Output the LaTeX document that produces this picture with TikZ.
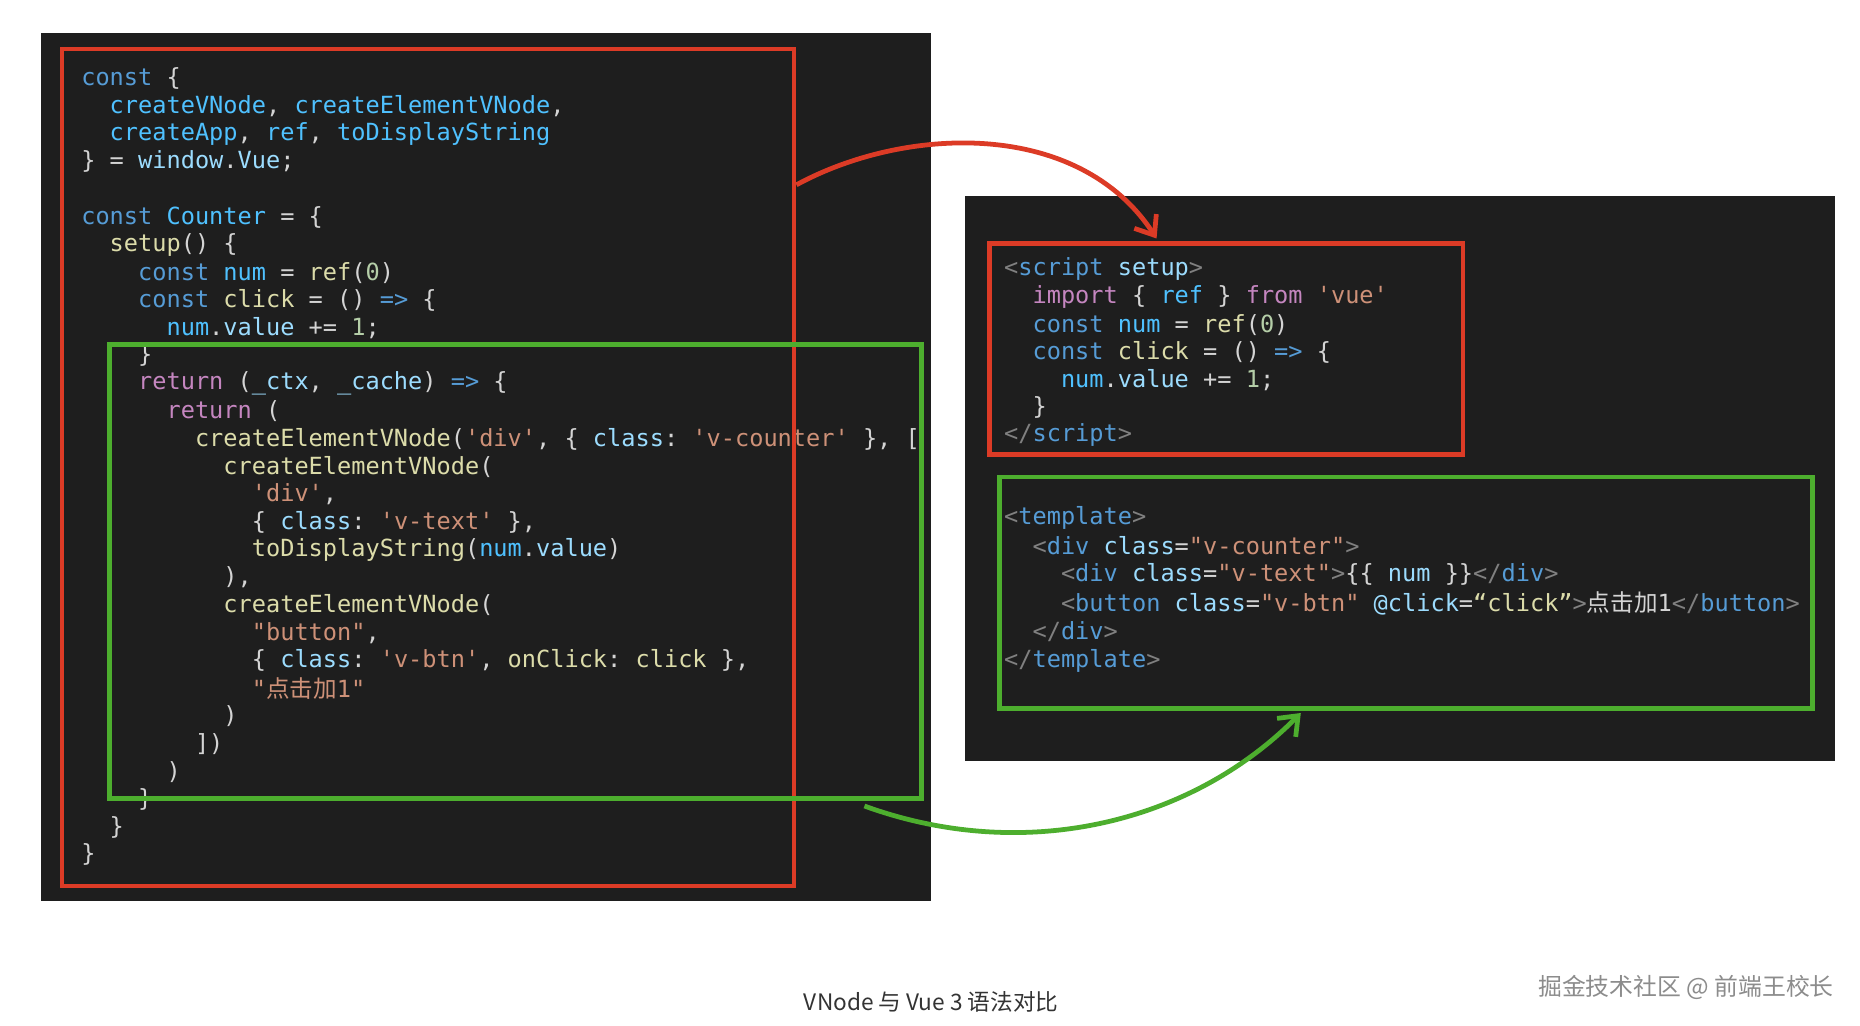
\documentclass[tikz,border=0pt]{standalone}
\usepackage{fontspec}
\setmonofont{DejaVu Sans Mono}
\newfontfamily\cjk{Noto Sans CJK SC}
\usetikzlibrary{arrows.meta}
\definecolor{bgdark}{HTML}{1E1E1E}
\definecolor{kw}{HTML}{569CD6}
\definecolor{cst}{HTML}{4FC1FF}
\definecolor{var}{HTML}{9CDCFE}
\definecolor{fn}{HTML}{DCDCAA}
\definecolor{str}{HTML}{CE9178}
\definecolor{ctl}{HTML}{C586C0}
\definecolor{numc}{HTML}{B5CEA8}
\definecolor{plain}{HTML}{D4D4D4}
\definecolor{tagc}{HTML}{808080}
\definecolor{redbox}{HTML}{DC3B26}
\definecolor{greenbox}{HTML}{4DAE2E}
\newcommand{\K}[1]{\textcolor{kw}{#1}}
\newcommand{\C}[1]{\textcolor{cst}{#1}}
\newcommand{\V}[1]{\textcolor{var}{#1}}
\newcommand{\F}[1]{\textcolor{fn}{#1}}
\newcommand{\St}[1]{\textcolor{str}{#1}}
\newcommand{\Ct}[1]{\textcolor{ctl}{#1}}
\newcommand{\N}[1]{\textcolor{numc}{#1}}
\newcommand{\T}[1]{\textcolor{tagc}{#1}}
\begin{document}
\begin{tikzpicture}[x=1pt,y=-1pt,
  code/.style={anchor=west,inner sep=0pt,text=plain,font=\ttfamily\fontsize{19.8}{23}\selectfont},
  redline/.style={draw=redbox,line width=4pt},
  greenline/.style={draw=greenbox,line width=4pt},
  captext/.style={inner sep=0pt,font=\cjk\fontsize{19}{22}\selectfont,text=black!80}]
\useasboundingbox (0,0) rectangle (1560,860);
\fill[white] (0,0) rectangle (1560,860);
% panels
\fill[bgdark] (34,28) rectangle (781,756);
\fill[bgdark] (809,164) rectangle (1539,638);
% left code
\begin{scope}
\clip (34,28) rectangle (781,756);
\foreach \i/\t in {
 0/{\K{const} \{},
 1/{\ \ \C{createVNode}, \C{createElementVNode},},
 2/{\ \ \C{createApp}, \C{ref}, \C{toDisplayString}},
 3/{\} = \V{window}.\V{Vue};},
 5/{\K{const} \C{Counter} = \{},
 6/{\ \ \F{setup}() \{},
 7/{\ \ \ \ \K{const} \C{num} = \F{ref}(\N{0})},
 8/{\ \ \ \ \K{const} \F{click} = () \K{=>} \{},
 9/{\ \ \ \ \ \ \C{num}.\V{value} += \N{1};},
 10/{\ \ \ \ \}},
 11/{\ \ \ \ \Ct{return} (\V{\_ctx}, \V{\_cache}) \K{=>} \{},
 12/{\ \ \ \ \ \ \Ct{return} (},
 13/{\ \ \ \ \ \ \ \ \F{createElementVNode}(\St{'div'}, \{ \V{class}: \St{'v-counter'} \}, [},
 14/{\ \ \ \ \ \ \ \ \ \ \F{createElementVNode}(},
 15/{\ \ \ \ \ \ \ \ \ \ \ \ \St{'div'},},
 16/{\ \ \ \ \ \ \ \ \ \ \ \ \{ \V{class}: \St{'v-text'} \},},
 17/{\ \ \ \ \ \ \ \ \ \ \ \ \F{toDisplayString}(\C{num}.\V{value})},
 18/{\ \ \ \ \ \ \ \ \ \ ),},
 19/{\ \ \ \ \ \ \ \ \ \ \F{createElementVNode}(},
 20/{\ \ \ \ \ \ \ \ \ \ \ \ \St{"button"},},
 21/{\ \ \ \ \ \ \ \ \ \ \ \ \{ \V{class}: \St{'v-btn'}, \F{onClick}: \F{click} \},},
 22/{\ \ \ \ \ \ \ \ \ \ \ \ \St{"{\cjk 点击加}1"}},
 23/{\ \ \ \ \ \ \ \ \ \ )},
 24/{\ \ \ \ \ \ \ \ ])},
 25/{\ \ \ \ \ \ )},
 26/{\ \ \ \ \}},
 27/{\ \ \}},
 28/{\}}}
  \node[code] (L\i) at (68,66+23.25*\i) {\t};
\end{scope}
% right code
\foreach \i/\t in {
 0/{\T{<}\K{script} \V{setup}\T{>}},
 1/{\ \ \Ct{import} \{ \C{ref} \} \Ct{from} \St{'vue'}},
 2/{\ \ \K{const} \C{num} = \F{ref}(\N{0})},
 3/{\ \ \K{const} \F{click} = () \K{=>} \{},
 4/{\ \ \ \ \C{num}.\V{value} += \N{1};},
 5/{\ \ \}},
 6/{\T{</}\K{script}\T{>}}}
  \node[code] (R\i) at (842,226+23.15*\i) {\t};
\foreach \i/\t in {
 0/{\T{<}\K{template}\T{>}},
 1/{\ \ \T{<}\K{div} \V{class}=\St{"v-counter"}\T{>}},
 2/{\ \ \ \ \T{<}\K{div} \V{class}=\St{"v-text"}\T{>}\{\{ \V{num} \}\}\T{</}\K{div}\T{>}},
 3/{\ \ \ \ \T{<}\K{button} \V{class}=\St{"v-btn"} \V{@click}=\F{“click”}\T{>}{\cjk 点击加}1\T{</}\K{button}\T{>}},
 4/{\ \ \T{</}\K{div}\T{>}},
 5/{\T{</}\K{template}\T{>}}}
  \node[code] (S\i) at (842,434+24*\i) {\t};
% boxes
\draw[redline] (52,41) rectangle (666,743);
\draw[greenline] (92,289) rectangle (773,670);
\draw[redline] (830,204) rectangle (1227,381);
\draw[greenline] (838,400) rectangle (1520,594);
% connectors
\coordinate (redA) at (668,155);
\coordinate (redB) at (970,200);
\coordinate (grA) at (725,676);
\coordinate (grB) at (1091,598);
\draw[redline,-{Straight Barb[length=14pt,width=22pt]}] (redA) .. controls (760,105) and (905,100) .. (redB);
\draw[greenline,-{Straight Barb[length=14pt,width=22pt]}] (grA) .. controls (860,725) and (1000,690) .. (grB);
% captions
\node[captext] (caption) at (781,840) {VNode 与 Vue 3 语法对比};
\node[captext,text=black!45,font=\cjk\fontsize{20}{23}\selectfont] (mark) at (1414,828) {掘金技术社区 @ 前端王校长};
\end{tikzpicture}
\end{document}
